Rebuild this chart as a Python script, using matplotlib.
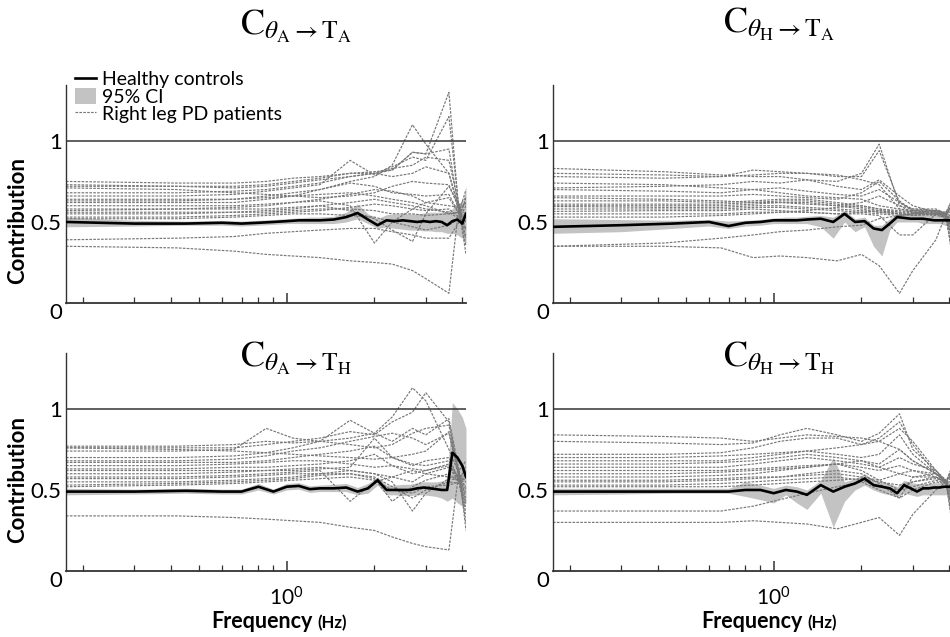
import matplotlib
matplotlib.use("Agg")
import matplotlib.pyplot as plt
from matplotlib.ticker import FixedLocator, NullFormatter
from matplotlib.lines import Line2D
from matplotlib.patches import Patch

plt.rcParams['font.family'] = ['Lato', 'DejaVu Sans']
plt.rcParams['mathtext.fontset'] = 'custom'
plt.rcParams['mathtext.rm'] = 'Lato'
plt.rcParams['mathtext.it'] = 'Lato:italic'
plt.rcParams['mathtext.bf'] = 'Lato:bold'

# ---------------------------------------------------------------- data
# frequency grids (Hz)
freq_hc = [0.175, 0.3, 0.45, 0.6, 0.7, 0.8, 0.9, 1.0, 1.1, 1.2, 1.3, 1.45, 1.6, 1.75, 1.9,
           2.05, 2.2, 2.35, 2.5, 2.65, 2.8, 2.95, 3.1, 3.25, 3.4, 3.55, 3.7, 3.85, 4.0, 4.12]
freq_pd = [0.175, 0.42, 0.66, 0.85, 1.05, 1.3, 1.65, 2.0, 2.3, 2.7, 3.0, 3.6, 3.9, 4.12]

# theta_A -> T_A
hc_AA = [0.50, 0.49, 0.49, 0.495, 0.49, 0.495, 0.50, 0.505, 0.51, 0.51, 0.51, 0.515, 0.53, 0.555, 0.515,
         0.48, 0.51, 0.505, 0.51, 0.505, 0.50, 0.505, 0.50, 0.505, 0.50, 0.48, 0.505, 0.515, 0.49, 0.55]
ci_lo_AA = [0.47, 0.475, 0.48, 0.48, 0.475, 0.48, 0.485, 0.49, 0.49, 0.49, 0.49, 0.49, 0.50, 0.52, 0.49,
            0.46, 0.47, 0.46, 0.455, 0.45, 0.45, 0.445, 0.445, 0.44, 0.44, 0.43, 0.43, 0.42, 0.40, 0.36]
ci_hi_AA = [0.53, 0.51, 0.505, 0.51, 0.505, 0.51, 0.515, 0.52, 0.525, 0.53, 0.53, 0.535, 0.56, 0.61, 0.55,
            0.52, 0.545, 0.55, 0.55, 0.55, 0.55, 0.555, 0.56, 0.56, 0.56, 0.57, 0.58, 0.63, 0.60, 0.72]
pd_AA = [
    [0.75, 0.74, 0.74, 0.75, 0.77, 0.78, 0.80, 0.81, 0.82, 0.93, 0.92, 1.30, 0.55, 0.45],
    [0.72, 0.72, 0.71, 0.72, 0.74, 0.76, 0.78, 0.80, 0.84, 0.90, 0.88, 1.15, 0.58, 0.30],
    [0.64, 0.64, 0.64, 0.66, 0.68, 0.70, 0.75, 0.78, 0.85, 1.10, 0.98, 0.80, 0.58, 0.62],
    [0.68, 0.68, 0.69, 0.70, 0.72, 0.74, 0.78, 0.80, 0.82, 0.93, 0.92, 0.95, 0.56, 0.70],
    [0.66, 0.66, 0.67, 0.69, 0.71, 0.73, 0.88, 0.79, 0.83, 0.85, 0.90, 0.88, 0.60, 0.40],
    [0.60, 0.60, 0.60, 0.61, 0.62, 0.63, 0.60, 0.37, 0.50, 0.58, 0.62, 0.65, 0.55, 0.50],
    [0.58, 0.58, 0.58, 0.58, 0.59, 0.60, 0.57, 0.52, 0.45, 0.38, 0.55, 0.72, 0.60, 0.45],
    [0.62, 0.62, 0.62, 0.64, 0.66, 0.70, 0.74, 0.72, 0.68, 0.67, 0.66, 0.67, 0.55, 0.40],
    [0.56, 0.56, 0.56, 0.57, 0.58, 0.60, 0.62, 0.64, 0.62, 0.60, 0.58, 0.56, 0.52, 0.60],
    [0.55, 0.55, 0.56, 0.56, 0.57, 0.58, 0.58, 0.57, 0.55, 0.55, 0.54, 0.55, 0.56, 0.35],
    [0.53, 0.53, 0.54, 0.55, 0.56, 0.57, 0.59, 0.61, 0.60, 0.58, 0.57, 0.58, 0.53, 0.55],
    [0.52, 0.52, 0.53, 0.54, 0.55, 0.55, 0.54, 0.53, 0.50, 0.47, 0.45, 0.48, 0.52, 0.65],
    [0.71, 0.70, 0.68, 0.67, 0.66, 0.65, 0.66, 0.68, 0.72, 0.75, 0.74, 0.73, 0.58, 0.55],
    [0.73, 0.72, 0.72, 0.73, 0.75, 0.77, 0.80, 0.80, 0.78, 0.80, 0.84, 0.80, 0.57, 0.50],
    [0.63, 0.63, 0.64, 0.65, 0.66, 0.67, 0.68, 0.66, 0.64, 0.62, 0.60, 0.55, 0.56, 0.62],
    [0.39, 0.40, 0.41, 0.43, 0.44, 0.45, 0.46, 0.46, 0.44, 0.42, 0.40, 0.40, 0.50, 0.55],
    [0.35, 0.34, 0.32, 0.30, 0.29, 0.28, 0.26, 0.25, 0.24, 0.20, 0.15, 0.06, 0.60, 0.65],
    [0.57, 0.58, 0.59, 0.60, 0.62, 0.64, 0.67, 0.70, 0.69, 0.66, 0.62, 0.60, 0.59, 0.62],
]

# theta_H -> T_A
hc_HA = [0.47, 0.48, 0.49, 0.50, 0.475, 0.495, 0.50, 0.51, 0.51, 0.51, 0.515, 0.52, 0.50, 0.55, 0.50,
         0.505, 0.46, 0.45, 0.49, 0.53, 0.525, 0.52, 0.52, 0.52, 0.515, 0.51, 0.51, 0.51, 0.51, 0.51]
ci_lo_HA = [0.43, 0.44, 0.46, 0.475, 0.46, 0.475, 0.48, 0.49, 0.49, 0.49, 0.49, 0.47, 0.40, 0.50, 0.44,
            0.47, 0.35, 0.29, 0.45, 0.50, 0.50, 0.50, 0.50, 0.49, 0.49, 0.49, 0.49, 0.48, 0.48, 0.48]
ci_hi_HA = [0.52, 0.515, 0.51, 0.515, 0.505, 0.51, 0.515, 0.525, 0.53, 0.53, 0.535, 0.54, 0.53, 0.57, 0.52,
            0.53, 0.48, 0.48, 0.52, 0.55, 0.55, 0.545, 0.55, 0.55, 0.55, 0.55, 0.55, 0.55, 0.55, 0.55]
pd_HA = [
    [0.83, 0.81, 0.79, 0.78, 0.78, 0.76, 0.75, 0.80, 0.98, 0.60, 0.56, 0.55, 0.55, 0.60],
    [0.80, 0.79, 0.78, 0.79, 0.80, 0.80, 0.78, 0.78, 0.94, 0.62, 0.57, 0.56, 0.53, 0.45],
    [0.78, 0.77, 0.78, 0.82, 0.81, 0.80, 0.79, 0.76, 0.73, 0.58, 0.56, 0.55, 0.52, 0.30],
    [0.71, 0.72, 0.73, 0.75, 0.74, 0.76, 0.72, 0.70, 0.76, 0.66, 0.60, 0.56, 0.54, 0.62],
    [0.74, 0.73, 0.71, 0.70, 0.68, 0.66, 0.65, 0.64, 0.60, 0.58, 0.57, 0.57, 0.55, 0.25],
    [0.70, 0.69, 0.68, 0.70, 0.71, 0.69, 0.67, 0.66, 0.70, 0.62, 0.58, 0.57, 0.56, 0.65],
    [0.66, 0.66, 0.66, 0.67, 0.66, 0.65, 0.64, 0.68, 0.75, 0.63, 0.57, 0.56, 0.55, 0.40],
    [0.65, 0.64, 0.63, 0.62, 0.62, 0.61, 0.60, 0.62, 0.66, 0.60, 0.58, 0.58, 0.55, 0.50],
    [0.63, 0.63, 0.62, 0.63, 0.64, 0.64, 0.62, 0.60, 0.58, 0.57, 0.56, 0.55, 0.54, 0.58],
    [0.61, 0.61, 0.61, 0.62, 0.63, 0.63, 0.61, 0.59, 0.57, 0.56, 0.56, 0.57, 0.55, 0.35],
    [0.60, 0.60, 0.60, 0.61, 0.62, 0.62, 0.60, 0.58, 0.56, 0.55, 0.54, 0.55, 0.56, 0.52],
    [0.595, 0.59, 0.59, 0.60, 0.60, 0.59, 0.58, 0.57, 0.56, 0.55, 0.55, 0.56, 0.54, 0.62],
    [0.58, 0.58, 0.58, 0.59, 0.59, 0.58, 0.57, 0.56, 0.55, 0.54, 0.55, 0.57, 0.55, 0.45],
    [0.565, 0.57, 0.57, 0.58, 0.57, 0.56, 0.55, 0.56, 0.57, 0.55, 0.54, 0.55, 0.53, 0.28],
    [0.55, 0.55, 0.55, 0.56, 0.56, 0.56, 0.55, 0.55, 0.54, 0.42, 0.42, 0.55, 0.56, 0.60],
    [0.53, 0.53, 0.54, 0.55, 0.56, 0.57, 0.59, 0.60, 0.58, 0.56, 0.55, 0.54, 0.53, 0.38],
    [0.35, 0.37, 0.40, 0.42, 0.44, 0.45, 0.47, 0.48, 0.52, 0.54, 0.55, 0.55, 0.54, 0.50],
    [0.35, 0.35, 0.34, 0.28, 0.29, 0.28, 0.26, 0.30, 0.23, 0.06, 0.20, 0.39, 0.55, 0.65],
]

# theta_A -> T_H
hc_AH = [0.49, 0.49, 0.495, 0.49, 0.49, 0.52, 0.49, 0.52, 0.525, 0.505, 0.51, 0.51, 0.515, 0.49, 0.51,
         0.56, 0.50, 0.50, 0.50, 0.50, 0.51, 0.515, 0.51, 0.505, 0.50, 0.50, 0.73, 0.70, 0.65, 0.58]
ci_lo_AH = [0.47, 0.475, 0.48, 0.475, 0.475, 0.50, 0.475, 0.50, 0.505, 0.485, 0.49, 0.49, 0.49, 0.47, 0.48,
            0.53, 0.47, 0.47, 0.465, 0.465, 0.47, 0.47, 0.465, 0.46, 0.45, 0.43, 0.45, 0.42, 0.40, 0.42]
ci_hi_AH = [0.51, 0.505, 0.51, 0.505, 0.505, 0.54, 0.505, 0.54, 0.545, 0.525, 0.53, 0.535, 0.54, 0.515, 0.54,
            0.58, 0.53, 0.53, 0.535, 0.535, 0.545, 0.55, 0.55, 0.55, 0.555, 0.56, 1.04, 1.00, 0.95, 0.88]
pd_AH = [
    [0.77, 0.77, 0.78, 0.80, 0.79, 0.80, 0.82, 0.85, 0.95, 1.13, 1.05, 0.75, 0.60, 0.45],
    [0.76, 0.76, 0.76, 0.78, 0.80, 0.82, 0.86, 0.84, 0.92, 0.98, 1.10, 0.92, 0.58, 0.30],
    [0.74, 0.74, 0.75, 0.88, 0.82, 0.80, 0.78, 0.76, 0.78, 0.85, 0.88, 0.90, 0.60, 0.50],
    [0.70, 0.70, 0.71, 0.73, 0.76, 0.80, 0.93, 0.85, 0.80, 0.88, 0.84, 0.94, 0.62, 0.68],
    [0.68, 0.68, 0.69, 0.71, 0.74, 0.76, 0.80, 0.83, 0.85, 0.82, 0.78, 0.85, 0.57, 0.40],
    [0.67, 0.67, 0.67, 0.68, 0.70, 0.72, 0.74, 0.77, 0.70, 0.66, 0.65, 0.68, 0.56, 0.55],
    [0.65, 0.65, 0.66, 0.67, 0.68, 0.68, 0.66, 0.64, 0.65, 0.63, 0.62, 0.66, 0.55, 0.35],
    [0.63, 0.63, 0.64, 0.64, 0.65, 0.66, 0.68, 0.72, 0.65, 0.60, 0.62, 0.65, 0.58, 0.62],
    [0.62, 0.62, 0.62, 0.62, 0.62, 0.63, 0.64, 0.82, 0.70, 0.65, 0.68, 0.70, 0.56, 0.48],
    [0.60, 0.60, 0.61, 0.62, 0.63, 0.64, 0.62, 0.60, 0.58, 0.55, 0.60, 0.64, 0.55, 0.58],
    [0.58, 0.58, 0.59, 0.60, 0.61, 0.62, 0.43, 0.55, 0.58, 0.62, 0.60, 0.58, 0.57, 0.42],
    [0.57, 0.57, 0.58, 0.59, 0.60, 0.60, 0.60, 0.57, 0.43, 0.52, 0.56, 0.60, 0.55, 0.65],
    [0.55, 0.55, 0.56, 0.57, 0.58, 0.60, 0.62, 0.60, 0.55, 0.37, 0.48, 0.57, 0.56, 0.52],
    [0.53, 0.54, 0.55, 0.56, 0.57, 0.59, 0.60, 0.58, 0.52, 0.45, 0.50, 0.55, 0.54, 0.38],
    [0.52, 0.53, 0.54, 0.55, 0.56, 0.57, 0.58, 0.56, 0.50, 0.48, 0.52, 0.53, 0.55, 0.60],
    [0.34, 0.34, 0.33, 0.32, 0.31, 0.30, 0.27, 0.25, 0.21, 0.17, 0.15, 0.13, 0.62, 0.25],
    [0.76, 0.75, 0.74, 0.73, 0.72, 0.71, 0.70, 0.69, 0.70, 0.72, 0.74, 0.86, 0.60, 0.55],
]

# theta_H -> T_H
hc_HH = [0.49, 0.49, 0.49, 0.49, 0.49, 0.50, 0.50, 0.48, 0.50, 0.49, 0.47, 0.53, 0.49, 0.52, 0.54,
         0.57, 0.53, 0.52, 0.51, 0.48, 0.53, 0.51, 0.49, 0.51, 0.51, 0.515, 0.515, 0.52, 0.52, 0.52]
ci_lo_HH = [0.47, 0.475, 0.48, 0.48, 0.48, 0.46, 0.44, 0.42, 0.47, 0.42, 0.38, 0.48, 0.27, 0.43, 0.50,
            0.53, 0.50, 0.48, 0.47, 0.46, 0.48, 0.47, 0.46, 0.47, 0.47, 0.47, 0.47, 0.47, 0.47, 0.47]
ci_hi_HH = [0.51, 0.51, 0.51, 0.51, 0.51, 0.55, 0.53, 0.51, 0.53, 0.52, 0.50, 0.56, 0.70, 0.55, 0.57,
            0.60, 0.56, 0.55, 0.54, 0.52, 0.56, 0.545, 0.54, 0.54, 0.54, 0.545, 0.545, 0.55, 0.55, 0.55]
pd_HH = [
    [0.84, 0.83, 0.82, 0.80, 0.82, 0.84, 0.83, 0.82, 0.80, 0.75, 0.68, 0.60, 0.55, 0.62],
    [0.80, 0.79, 0.78, 0.79, 0.84, 0.88, 0.84, 0.80, 0.85, 0.97, 0.75, 0.62, 0.54, 0.35],
    [0.72, 0.72, 0.73, 0.76, 0.80, 0.82, 0.82, 0.78, 0.82, 0.92, 0.78, 0.60, 0.56, 0.50],
    [0.70, 0.70, 0.71, 0.72, 0.73, 0.74, 0.76, 0.78, 0.80, 0.88, 0.80, 0.62, 0.55, 0.25],
    [0.68, 0.68, 0.68, 0.70, 0.72, 0.74, 0.72, 0.70, 0.72, 0.84, 0.72, 0.60, 0.54, 0.40],
    [0.66, 0.66, 0.67, 0.68, 0.70, 0.72, 0.70, 0.68, 0.66, 0.75, 0.68, 0.60, 0.55, 0.58],
    [0.64, 0.64, 0.64, 0.66, 0.68, 0.70, 0.68, 0.66, 0.64, 0.70, 0.66, 0.62, 0.56, 0.45],
    [0.62, 0.62, 0.62, 0.63, 0.64, 0.65, 0.66, 0.64, 0.62, 0.65, 0.62, 0.60, 0.55, 0.65],
    [0.60, 0.60, 0.61, 0.62, 0.63, 0.64, 0.66, 0.68, 0.64, 0.60, 0.58, 0.58, 0.54, 0.30],
    [0.58, 0.58, 0.59, 0.60, 0.62, 0.64, 0.66, 0.62, 0.56, 0.50, 0.55, 0.58, 0.55, 0.55],
    [0.56, 0.56, 0.57, 0.58, 0.58, 0.60, 0.62, 0.60, 0.54, 0.45, 0.58, 0.60, 0.56, 0.42],
    [0.55, 0.55, 0.56, 0.57, 0.58, 0.59, 0.60, 0.58, 0.56, 0.60, 0.62, 0.58, 0.55, 0.60],
    [0.53, 0.53, 0.54, 0.55, 0.56, 0.57, 0.58, 0.56, 0.52, 0.50, 0.52, 0.56, 0.54, 0.38],
    [0.52, 0.52, 0.52, 0.53, 0.54, 0.55, 0.56, 0.57, 0.55, 0.53, 0.55, 0.57, 0.55, 0.66],
    [0.37, 0.37, 0.37, 0.40, 0.44, 0.48, 0.52, 0.55, 0.50, 0.45, 0.50, 0.55, 0.54, 0.48],
    [0.30, 0.30, 0.30, 0.31, 0.30, 0.29, 0.26, 0.30, 0.33, 0.22, 0.35, 0.50, 0.55, 0.62],
]

titles = [r'$\mathrm{C}_{\theta_{\mathrm{A}}\rightarrow\mathrm{T}_{\mathrm{A}}}$',
          r'$\mathrm{C}_{\theta_{\mathrm{H}}\rightarrow\mathrm{T}_{\mathrm{A}}}$',
          r'$\mathrm{C}_{\theta_{\mathrm{A}}\rightarrow\mathrm{T}_{\mathrm{H}}}$',
          r'$\mathrm{C}_{\theta_{\mathrm{H}}\rightarrow\mathrm{T}_{\mathrm{H}}}$']
y_ticks = [0, 0.5, 1]
y_ticklabels = ['0', '0.5', '1']

# ---------------------------------------------------------------- layout
W, H = 950, 637
fig = plt.figure(figsize=(W / 100, H / 100), dpi=100)

def px_box(left, top, right, bottom):
    return [left / W, 1 - bottom / H, (right - left) / W, (bottom - top) / H]

boxes = [px_box(66, 85, 466, 303), px_box(553, 85, 953, 303),
         px_box(66, 353, 466, 571), px_box(553, 353, 953, 571)]
title_pos = [(240, 35), (723, 33), (240, 367), (723, 367)]

panels = [(hc_AA, ci_lo_AA, ci_hi_AA, pd_AA),
          (hc_HA, ci_lo_HA, ci_hi_HA, pd_HA),
          (hc_AH, ci_lo_AH, ci_hi_AH, pd_AH),
          (hc_HH, ci_lo_HH, ci_hi_HH, pd_HH)]

CI_COLOR = '#c3c3c3'
PD_COLOR = '#777777'
PD_STYLE = (0, (2.2, 1.1))
AX_COLOR = '#333333'

for i, (hc, lo, hi, pds) in enumerate(panels):
    ax = fig.add_axes(boxes[i])
    ax.fill_between(freq_hc, lo, hi, color=CI_COLOR, lw=0, zorder=1)
    for p in pds:
        ax.plot(freq_pd, p, color=PD_COLOR, lw=0.85, ls=PD_STYLE, zorder=2)
    ax.plot(freq_hc, hc, color='black', lw=1.9, zorder=4)
    ax.axhline(1.0, color=AX_COLOR, lw=1.1, zorder=3)

    ax.set_xscale('log')
    ax.set_xlim(0.175, 4.12)
    ax.set_ylim(0, 1.345)
    ax.xaxis.set_major_locator(FixedLocator([1.0]))
    ax.xaxis.set_minor_locator(FixedLocator([0.2, 0.3, 0.4, 0.5, 0.6, 0.7, 0.8, 0.9, 2, 3, 4]))
    ax.xaxis.set_minor_formatter(NullFormatter())
    if i >= 2:
        ax.set_xticklabels([r'$10^{0}$'])
    else:
        ax.set_xticklabels([])
    ax.tick_params(axis='x', which='major', direction='in', length=7, width=1.1,
                   color=AX_COLOR, labelsize=15, pad=11)
    ax.tick_params(axis='x', which='minor', direction='in', length=4, width=0.9, color=AX_COLOR)
    ax.set_yticks(y_ticks)
    ax.set_yticklabels(y_ticklabels)
    ax.tick_params(axis='y', length=0, labelsize=16, pad=3)
    ax.yaxis.get_major_ticks()[0].label1.set_verticalalignment('top')

    for side in ('top', 'right'):
        ax.spines[side].set_visible(False)
    ax.spines['left'].set_color(AX_COLOR)
    ax.spines['left'].set_linewidth(1.0)
    ax.spines['bottom'].set_color(AX_COLOR)
    ax.spines['bottom'].set_linewidth(1.3)
    ax.set_facecolor('none')

    if i % 2 == 0:
        ax.set_ylabel('Contribution', fontsize=16, fontweight='bold')
        ax.yaxis.set_label_coords(-0.095, 0.38 if i == 0 else 0.42)

    tx, ty = title_pos[i]
    fig.text(tx / W, 1 - ty / H, titles[i], fontsize=26, math_fontfamily='stix',
             ha='left', va='baseline')

    if i >= 2:
        xr = 313 if i == 2 else 803
        fig.text(xr / W, 1 - 628 / H, 'Frequency', fontsize=15.5, fontweight='bold',
                 ha='right', va='baseline')
        fig.text((xr + 4) / W, 1 - 628 / H, '(Hz)', fontsize=12, fontweight='bold',
                 ha='left', va='baseline')

    if i == 0:
        handles = [Line2D([], [], color='black', lw=1.9),
                   Patch(facecolor=CI_COLOR, edgecolor='none'),
                   Line2D([], [], color=PD_COLOR, lw=0.85, ls=PD_STYLE)]
        ax.legend(handles, ['Healthy controls', '95% CI', 'Right leg PD patients'],
                  loc='upper left', bbox_to_anchor=(75 / W, 1 - 71 / H),
                  bbox_transform=fig.transFigure, frameon=False, fontsize=14,
                  handlelength=1.1, handleheight=0.85, handletextpad=0.3,
                  labelspacing=-0.02, borderpad=0, borderaxespad=0)

fig.savefig('out.png', dpi=100)
